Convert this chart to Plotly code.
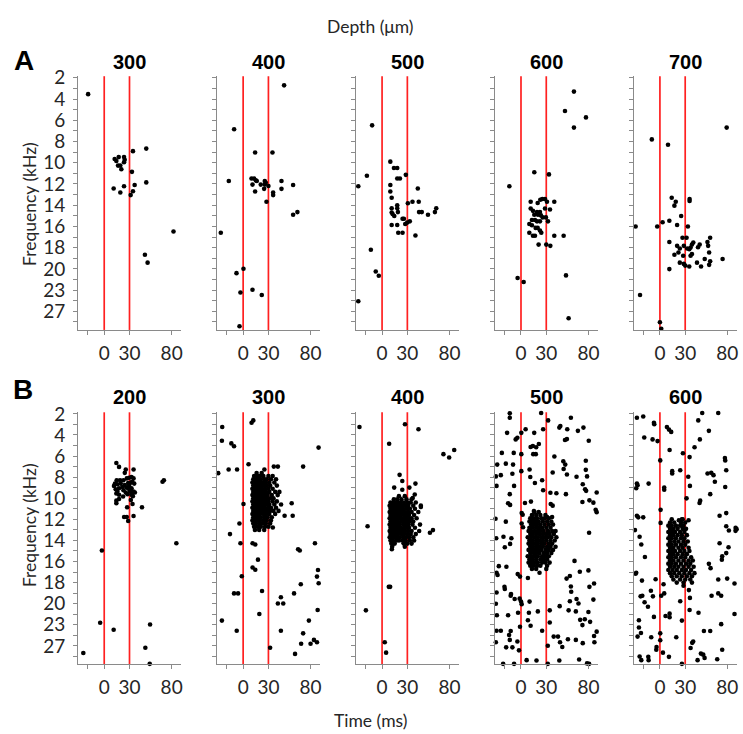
import plotly.graph_objects as go

# ---------------- axis / label data ----------------
FREQ_LABELS = ["2", "4", "6", "8", "10", "12", "14", "16", "18", "20", "23", "27"]
TIME_TICKS = [-20, 0, 30, 80]
TIME_TEXT = ["", "0", "30", "80"]
DEPTH_A = ["300", "400", "500", "600", "700"]
DEPTH_B = ["200", "300", "400", "500", "600"]
WINDOW_MS = [0, 30]

# spikes: (time ms, frequency-row index; row 0 = 2 kHz ... row 22 = 27 kHz)
A300 = [(-19.1, 1.54), (12.4, 7.65), (14.4, 7.84), (17.2, 7.47), (23.5, 7.47), (24.3, 7.72), (23.5, 7.96),
        (16.4, 8.27), (19.1, 8.27), (20.3, 8.61), (34.1, 6.91), (49.9, 6.67), (32.9, 8.86), (11.2, 10.43),
        (23.5, 10.22), (36.1, 10.09), (19.1, 10.80), (31.4, 11.05), (34.1, 10.68), (49.9, 9.85), (82.2, 14.48),
        (48.3, 16.67), (51.5, 17.41)]
A400 = [(48.6, 0.71), (-10.7, 4.85), (14.2, 7.04), (34.8, 7.04), (-17.0, 9.72), (9.9, 9.48), (13.0, 9.48),
        (15.0, 9.66), (16.2, 9.72), (11.1, 10.06), (14.2, 10.71), (20.9, 10.06), (25.7, 9.72), (25.7, 10.06),
        (26.9, 9.88), (30.0, 10.19), (24.9, 10.46), (27.7, 11.67), (35.6, 10.80), (35.6, 11.05), (45.5, 9.72),
        (45.5, 10.46), (59.3, 10.09), (59.3, 12.90), (64.4, 12.65), (-26.5, 14.60), (0.4, 17.99), (-7.9, 18.40),
        (-3.2, 20.22), (11.1, 19.97), (22.1, 20.46), (-4.3, 23.40)]
A500 = [(-11.8, 4.48), (-18.0, 9.23), (-28.2, 10.22), (9.8, 7.90), (14.1, 8.49), (18.0, 8.49), (18.0, 9.48),
        (21.2, 9.48), (28.2, 9.14), (9.8, 10.09), (9.8, 10.71), (11.4, 11.30), (42.4, 10.43), (36.1, 11.67),
        (43.5, 11.67), (30.6, 11.82), (18.0, 12.01), (18.0, 12.28), (11.4, 12.28), (11.4, 12.69), (12.5, 12.84),
        (14.5, 13.02), (18.8, 12.65), (43.9, 12.65), (47.1, 12.65), (54.5, 12.90), (62.7, 12.65), (64.3, 12.28),
        (24.3, 13.27), (25.9, 13.27), (27.5, 13.77), (29.8, 13.64), (32.9, 13.52), (11.4, 13.86), (18.0, 13.86),
        (19.2, 14.60), (24.3, 14.60), (39.6, 14.85), (-13.3, 16.20), (-7.5, 18.24), (-3.9, 18.64), (-28.2, 21.05)]
A600 = [(62.8, 1.30), (52.2, 3.12), (77.1, 3.73), (62.8, 4.69), (15.8, 8.89), (33.2, 9.10), (-13.8, 10.22),
        (11.5, 11.67), (19.8, 11.79), (22.9, 11.48), (25.3, 11.42), (28.5, 11.42), (30.8, 11.67), (39.5, 11.67),
        (11.5, 12.31), (14.2, 12.53), (19.0, 12.65), (22.5, 12.65), (28.5, 12.31), (34.4, 12.41), (15.8, 12.90),
        (20.2, 12.90), (23.7, 12.96), (25.7, 13.15), (29.6, 13.15), (13.0, 13.40), (16.6, 13.40), (19.0, 13.52),
        (22.5, 13.52), (32.0, 13.52), (9.9, 13.77), (13.0, 13.89), (17.4, 14.14), (19.8, 14.14), (22.5, 14.38),
        (9.9, 14.60), (14.2, 14.88), (16.6, 14.88), (24.1, 14.60), (39.5, 14.88), (50.6, 14.88), (20.9, 15.71),
        (30.0, 15.71), (34.8, 15.83), (-4.0, 18.86), (3.2, 19.23), (53.4, 18.61), (56.5, 22.65)]
A700 = [(79.2, 4.69), (-9.6, 5.80), (9.6, 6.30), (-28.8, 14.01), (-3.2, 14.01), (3.2, 13.61), (11.2, 13.46),
        (14.0, 11.30), (18.8, 11.67), (17.2, 12.04), (35.2, 11.42), (35.2, 11.60), (25.2, 13.02), (20.4, 13.86),
        (33.2, 14.01), (11.2, 15.46), (26.8, 15.06), (31.6, 15.06), (20.4, 15.83), (23.6, 16.08), (28.4, 15.83),
        (32.4, 16.08), (36.4, 15.99), (39.6, 15.52), (38.0, 15.71), (34.8, 16.14), (17.2, 16.67), (22.0, 16.45),
        (27.6, 16.76), (36.4, 16.76), (38.0, 16.60), (47.2, 15.71), (45.2, 15.96), (56.4, 15.46), (59.6, 15.06),
        (57.2, 15.83), (58.4, 16.45), (53.2, 17.07), (59.6, 17.28), (58.4, 17.62), (48.8, 17.78), (44.0, 17.41),
        (23.6, 17.41), (28.4, 17.53), (30.0, 17.69), (34.8, 17.78), (74.4, 17.07), (11.2, 18.02), (-23.6, 20.46),
        (0.0, 23.02), (1.6, 23.64)]

B200 = [(14.4, 4.66), (17.6, 5.03), (25.6, 5.28), (24.4, 5.59), (34.8, 5.28),
        (14.8, 6.30), (18.8, 6.30), (22.8, 6.30), (26.8, 6.12), (29.6, 6.06), (32.4, 5.99), (34.8, 6.12),
        (11.6, 6.83), (15.6, 6.68), (19.6, 6.61), (24.4, 6.74), (28.4, 6.55), (31.6, 6.52), (35.6, 6.61),
        (13.6, 7.14), (17.6, 7.05), (22.8, 7.24), (26.4, 6.99), (29.6, 7.14), (32.4, 7.05), (34.8, 7.36),
        (14.4, 7.55), (17.6, 7.67), (22.4, 7.83), (27.6, 7.61), (32.4, 7.67), (36.4, 7.45), (34.0, 7.80),
        (14.4, 8.23), (14.4, 8.48), (17.6, 8.07), (33.6, 8.54), (31.6, 8.17), (27.2, 8.85), (44.8, 8.85),
        (23.6, 9.78), (26.8, 9.78), (28.4, 10.16), (34.8, 9.69), (12.8, 6.61), (21.6, 6.93), (30.8, 7.36),
        (15.6, 7.36), (25.6, 7.45), (29.6, 6.83), (33.2, 6.43),
        (85.6, 12.27), (-2.8, 12.95), (-4.8, 19.81), (11.2, 20.47), (54.4, 19.97), (48.8, 22.17),
        (-24.8, 22.67), (54.0, 23.70), (70.8, 6.30), (69.2, 6.43)]

B300 = [(-24.8, 1.24), (-25.2, 2.55), (-14.0, 2.80), (-10.8, 3.07), (10.0, 0.84), (12.0, 0.62), (89.5, 3.20),
        (-29.6, 5.62), (-17.2, 5.28), (-7.2, 5.28), (6.4, 4.78), (25.2, 5.28), (36.4, 5.00), (41.2, 5.00),
        (71.2, 5.00), (0.4, 8.54), (57.6, 8.48), (49.2, 9.66), (58.8, 9.66), (35.2, 10.78), (-4.4, 10.40),
        (-15.6, 11.40), (-3.2, 12.27), (11.2, 12.27), (14.4, 12.39), (17.6, 13.82), (11.2, 14.57), (14.4, 14.78),
        (-1.6, 15.40), (65.2, 12.83), (67.2, 12.95), (85.2, 12.27), (88.8, 14.81), (87.6, 15.43), (89.6, 16.06),
        (68.4, 16.15), (22.4, 16.80), (-10.8, 17.02), (-6.0, 17.02), (44.8, 17.39), (41.2, 17.98), (47.6, 17.98),
        (60.4, 17.02), (88.4, 18.60), (19.2, 18.98), (-25.2, 19.60), (78.0, 19.60), (-7.6, 20.56), (44.8, 20.56),
        (71.2, 20.81), (84.0, 21.43), (87.6, 21.65), (68.8, 21.80), (80.0, 21.80), (32.0, 22.17), (61.6, 22.76)]
B300_BURST = [
    (5.6, [16, 22]),
    (5.9, [13, 17, 20, 24, 30, 35]),
    (6.2, [12, 15, 18, 21, 25, 28, 33, 39]),
    (6.5, [11, 14, 17, 20, 23, 27, 31, 37]),
    (6.8, [12, 15, 18, 21, 24, 28, 32, 40]),
    (7.1, [11, 13, 16, 19, 22, 26, 30, 35]),
    (7.4, [12, 15, 18, 21, 24, 27, 31, 38, 43]),
    (7.7, [11, 14, 17, 20, 23, 26, 29, 34, 41]),
    (8.0, [12, 15, 18, 22, 25, 28, 32, 36]),
    (8.3, [11, 14, 17, 20, 23, 27, 30, 35, 40]),
    (8.6, [12, 15, 18, 21, 24, 28, 31, 37, 45]),
    (8.9, [11, 14, 17, 20, 23, 26, 30, 33, 39]),
    (9.2, [12, 15, 19, 22, 25, 29, 32, 36, 42]),
    (9.5, [11, 14, 17, 20, 24, 27, 31, 38]),
    (9.8, [12, 15, 18, 21, 25, 29, 34]),
    (10.1, [11, 14, 17, 20, 24, 28, 33]),
    (10.4, [12, 15, 19, 23, 27, 32]),
    (10.7, [13, 17, 21, 26, 30]),
    (11.0, [14, 19, 25]),
]

B400 = [(-26.8, 1.24), (27.2, 0.99), (43.2, 1.46), (8.4, 2.83), (72.8, 3.82), (79.6, 4.13), (85.6, 3.42),
        (20.8, 5.78), (24.0, 6.37), (39.6, 6.61), (14.4, 6.99), (32.4, 6.99), (24.0, 7.20), (38.8, 7.64),
        (36.4, 7.98), (46.0, 8.82), (-17.2, 10.65), (56.8, 11.27), (60.4, 11.02), (11.6, 12.83), (25.6, 12.27),
        (8.0, 16.40), (9.6, 16.40), (-19.2, 18.63), (3.2, 21.65), (4.8, 22.64)]
B400_BURST = [
    (7.8, [20, 27]),
    (8.1, [14, 18, 23, 29, 35]),
    (8.4, [10, 13, 16, 19, 22, 26, 30, 34, 40]),
    (8.7, [9, 12, 15, 18, 21, 24, 28, 31, 37, 46]),
    (9.0, [10, 13, 16, 19, 22, 25, 29, 33, 39]),
    (9.3, [9, 12, 15, 18, 21, 24, 27, 31, 35, 43]),
    (9.6, [10, 13, 16, 19, 22, 26, 29, 32, 38]),
    (9.9, [9, 12, 15, 18, 21, 24, 28, 31, 35, 41]),
    (10.2, [10, 13, 16, 19, 23, 26, 29, 33, 37]),
    (10.5, [9, 12, 15, 18, 21, 25, 28, 31, 36, 45]),
    (10.8, [10, 13, 16, 19, 22, 26, 29, 32, 39]),
    (11.1, [9, 12, 15, 18, 21, 24, 27, 31, 35, 44]),
    (11.4, [10, 13, 16, 19, 23, 26, 30, 34, 40]),
    (11.7, [9, 12, 15, 18, 21, 25, 28, 32, 37]),
    (12.0, [10, 13, 17, 20, 24, 28, 33, 38]),
    (12.3, [11, 15, 26, 30, 35]),
    (12.6, [12, 27]),
]

B500 = [(-13.3, -0.05), (-13.3, 0.37), (23.9, -0.08), (32.2, 0.62), (59.2, 0.37), (5.5, 1.46), (26.3, 1.46),
        (46.7, 1.15), (45.5, 1.30), (54.9, 1.46), (67.5, 1.61), (74.1, 1.30), (-16.5, 1.80), (0.4, 1.80),
        (-6.3, 2.42), (-4.3, 2.27), (15.7, 1.80), (52.2, 2.48), (54.5, 2.39), (14.1, 3.04), (18.0, 3.17),
        (11.4, 3.14), (21.2, 2.86), (80.4, 2.55), (-22.7, 3.70), (-8.6, 3.70), (0.4, 3.82), (14.5, 3.82),
        (17.6, 3.82), (39.6, 4.04), (-28.2, 4.81), (-18.0, 4.72), (-9.4, 4.81), (50.2, 4.50), (52.5, 4.81),
        (76.9, 4.44), (76.9, 5.31), (10.2, 5.28), (0.4, 5.43), (50.6, 5.22), (37.6, 5.56), (54.5, 5.75),
        (-29.8, 5.93), (-23.9, 5.81), (-10.2, 5.68), (11.0, 5.99), (25.1, 6.30), (65.9, 5.96), (78.4, 5.93),
        (-29.0, 6.83), (-8.2, 6.83), (16.5, 6.55), (26.3, 7.24), (34.9, 7.48), (42.0, 7.52), (53.3, 7.61),
        (73.3, 6.68), (76.1, 7.14), (77.3, 7.30), (89.8, 7.45), (-13.3, 7.61), (-15.3, 8.48), (-12.9, 8.63),
        (4.7, 8.45), (11.8, 8.32), (35.3, 8.54), (37.6, 8.70), (72.9, 8.35), (81.2, 8.20), (85.9, 8.42),
        (88.6, 9.10), (89.8, 9.32), (0.8, 9.41), (2.0, 9.57), (15.3, 9.22), (-30.2, 9.94), (31.0, 9.78),
        (36.9, 9.78), (-18.0, 10.22), (0.8, 10.40), (2.4, 10.75), (80.8, 11.27), (-29.4, 11.80), (-20.8, 11.65),
        (-19.2, 12.64), (-11.4, 11.80), (-12.9, 12.33), (-17.3, 14.50), (-26.3, 14.44), (-29.0, 15.06),
        (-27.8, 15.28), (-3.9, 15.19), (-1.2, 15.43), (8.2, 15.56), (22.0, 15.06), (54.1, 15.62), (58.0, 15.37),
        (63.5, 13.94), (69.8, 14.97), (80.0, 14.84), (86.7, 16.09), (81.2, 16.40), (59.2, 16.37), (59.6, 16.86),
        (-29.0, 16.93), (-19.6, 16.40), (-19.2, 16.61), (-11.8, 17.08), (-12.2, 17.24), (-7.5, 17.55),
        (-1.6, 17.52), (0.0, 17.80), (0.8, 18.04), (10.2, 17.80), (-29.8, 18.01), (45.9, 18.23), (58.0, 17.76),
        (65.9, 17.55), (68.2, 17.98), (85.9, 17.61), (9.4, 18.85), (20.0, 18.73), (-3.5, 18.85), (-15.3, 19.10),
        (-28.6, 19.10), (34.1, 18.63), (56.5, 18.63), (65.1, 18.73), (-29.0, 20.56), (-23.9, 20.56),
        (-12.2, 20.59), (-1.2, 20.19), (8.2, 19.57), (11.4, 20.09), (25.1, 20.56), (34.1, 19.78), (70.2, 19.53),
        (75.7, 19.47), (80.0, 18.79), (82.0, 19.72), (72.9, 20.03), (86.7, 21.06), (89.8, 20.65), (-29.8, 21.65),
        (-14.1, 20.96), (-13.3, 21.43), (-17.6, 22.14), (-10.2, 22.14), (-4.3, 21.58), (-2.4, 22.42),
        (38.8, 21.12), (43.9, 21.12), (46.3, 21.65), (31.8, 21.99), (49.0, 22.11), (55.7, 21.37), (65.1, 21.43),
        (73.3, 21.74), (87.1, 21.65), (6.7, 23.35), (18.4, 23.39), (45.5, 23.39), (69.0, 23.29), (-21.2, 23.70),
        (-8.2, 23.70), (31.8, 23.70), (78.4, 23.66), (80.8, 23.70)]
B500_BURST = [
    (9.3, [16, 21]),
    (9.6, [13, 18, 23, 29]),
    (9.9, [11, 15, 19, 24, 28, 33]),
    (10.2, [10, 14, 17, 21, 26, 31, 36]),
    (10.5, [12, 16, 19, 23, 28, 33, 38]),
    (10.8, [10, 14, 18, 21, 25, 30, 35]),
    (11.1, [9, 12, 16, 20, 23, 27, 32, 37, 41]),
    (11.4, [11, 14, 18, 22, 26, 30, 34, 39]),
    (11.7, [8, 12, 16, 20, 24, 28, 32, 36, 42]),
    (12.0, [10, 14, 18, 22, 26, 30, 35, 40]),
    (12.3, [9, 12, 16, 20, 24, 28, 33, 37]),
    (12.6, [11, 14, 18, 22, 26, 31, 35, 41]),
    (12.9, [9, 13, 16, 20, 24, 29, 33, 38]),
    (13.2, [11, 15, 18, 22, 27, 31, 36]),
    (13.5, [8, 12, 16, 20, 25, 29, 33]),
    (13.8, [10, 14, 18, 23, 27, 31]),
    (14.1, [9, 12, 16, 20, 25, 29, 34]),
    (14.4, [11, 15, 19, 23, 31]),
    (14.7, [13, 18, 30]),
]

B600 = [(-27.3, 0.37), (-19.8, 0.25), (-7.1, 0.84), (-6.7, 0.99), (8.3, 1.24), (10.7, 1.49), (13.4, 1.71),
        (50.2, -0.08), (69.2, -0.08), (45.5, 0.62), (58.1, 1.61), (-18.6, 2.24), (-8.7, 2.42), (-2.8, 2.58),
        (47.4, 2.42), (11.5, 3.42), (41.1, 3.17), (0.4, 4.41), (27.3, 3.73), (35.2, 4.10), (77.1, 4.19),
        (77.5, 4.41), (14.6, 5.43), (14.6, 5.65), (24.1, 5.34), (33.6, 5.96), (56.5, 5.65), (60.9, 5.59),
        (63.6, 5.81), (78.7, 5.34), (-27.3, 6.61), (-26.5, 6.77), (-28.1, 7.05), (-13.4, 6.61), (5.1, 6.99),
        (5.1, 7.20), (35.6, 6.83), (65.2, 6.43), (77.5, 6.93), (59.7, 7.61), (47.8, 8.23), (47.0, 8.45),
        (31.6, 8.01), (0.8, 9.10), (-27.3, 9.66), (-25.7, 9.81), (-19.8, 9.81), (0.8, 10.34), (22.5, 10.09),
        (26.1, 10.00), (34.0, 10.09), (70.8, 9.66), (78.7, 9.41), (-29.6, 11.02), (-24.1, 11.65),
        (-22.1, 12.39), (-17.8, 13.57), (-28.9, 15.16), (-28.1, 15.06), (-21.3, 15.81), (-5.1, 15.68),
        (4.3, 16.15), (69.2, 15.71), (79.8, 15.62), (89.8, 10.81), (91.0, 10.93), (89.7, 11.09), (78.7, 10.65),
        (81.8, 11.06), (70.8, 12.27), (81.4, 12.64), (78.7, 13.20), (73.9, 13.51), (73.5, 13.82), (58.1, 14.22),
        (60.1, 14.63), (88.5, 16.09), (-20.9, 17.24), (-22.9, 17.30), (-10.7, 16.77), (-8.3, 17.30),
        (-18.2, 17.86), (-14.2, 18.29), (1.6, 17.24), (5.1, 17.02), (24.1, 17.76), (34.4, 16.71), (35.6, 17.45),
        (61.3, 17.24), (69.2, 17.02), (72.7, 17.24), (-7.1, 19.25), (6.7, 19.16), (11.5, 18.94), (11.5, 19.29),
        (26.1, 19.60), (35.2, 18.60), (45.8, 18.85), (72.7, 19.94), (88.5, 18.98), (-24.9, 19.57),
        (-24.9, 20.25), (-22.5, 20.78), (-26.5, 21.12), (-10.3, 21.18), (0.4, 20.81), (0.4, 21.46),
        (-4.0, 22.11), (-4.3, 22.36), (3.6, 22.64), (10.7, 23.04), (19.4, 21.18), (38.3, 21.71), (39.5, 21.58),
        (36.4, 22.20), (52.2, 20.59), (48.6, 22.73), (51.4, 22.83), (53.0, 23.14), (44.7, 23.35), (68.0, 23.26),
        (73.9, 22.36), (-24.1, 23.01), (-22.1, 23.35), (-13.8, 23.04), (-13.4, 23.35), (26.1, 23.70),
        (59.7, 20.59)]
B600_BURST = [
    (10.0, [14, 27]),
    (10.3, [12, 17, 25, 30]),
    (10.6, [10, 14, 19, 24, 28]),
    (10.9, [12, 16, 21, 27, 31]),
    (11.2, [10, 14, 18, 24, 29]),
    (11.5, [12, 16, 21, 26, 32]),
    (11.8, [10, 14, 19, 25, 29]),
    (12.1, [12, 17, 22, 28, 33]),
    (12.4, [10, 14, 19, 25, 30]),
    (12.7, [12, 16, 22, 27, 34]),
    (13.0, [10, 14, 18, 24, 29, 35]),
    (13.3, [12, 16, 21, 27, 32]),
    (13.6, [10, 14, 19, 25, 30, 37]),
    (13.9, [12, 16, 22, 28, 34, 39]),
    (14.2, [10, 14, 19, 25, 31, 36]),
    (14.5, [12, 17, 22, 28, 34, 40]),
    (14.8, [10, 15, 20, 26, 31, 37]),
    (15.1, [12, 17, 23, 29, 35, 41]),
    (15.4, [14, 20, 26, 32, 38]),
    (15.7, [16, 24, 30, 36]),
    (16.0, [20, 28, 38]),
    (16.3, [28]),
]

PANELS = [
    (A300, []), (A400, []), (A500, []), (A600, []), (A700, []),
    (B200, []), (B300, B300_BURST), (B400, B400_BURST), (B500, B500_BURST), (B600, B600_BURST),
]

# ---------------- layout geometry (pixels) ----------------
W, H = 743, 734
X_RANGE = [-31, 91]
Y_RANGE = [23.75, -0.15]
COL_PX = [(78.3, 181.4), (217.6, 320.7), (356.9, 460.0), (496.2, 599.3), (635.5, 738.6)]
ROW_PX = [(66.2, 323.8), (407.4, 663.3)]

AX_COLOR = "#8a8a8a"
TICK_FONT = dict(family="Lato, Liberation Sans, sans-serif", size=19, color="#262626")

fig = go.Figure()
layout = dict(
    width=W, height=H, margin=dict(l=0, r=0, t=0, b=0),
    paper_bgcolor="white", plot_bgcolor="white", showlegend=False,
)
shapes = []
annotations = []

for i, (spikes, burst) in enumerate(PANELS):
    r, c = divmod(i, 5)
    n = i + 1
    xs = [p[0] for p in spikes]
    ys = [p[1] for p in spikes]
    for fy, times in burst:
        for t in times:
            xs.append(t)
            ys.append(fy)
    xa = "x" if n == 1 else f"x{n}"
    ya = "y" if n == 1 else f"y{n}"
    fig.add_trace(go.Scatter(
        x=xs, y=ys, xaxis=xa, yaxis=ya, mode="markers", cliponaxis=False,
        marker=dict(color="black", size=4.6, line=dict(width=0)), hoverinfo="skip",
    ))
    x0, x1 = COL_PX[c]
    y0, y1 = ROW_PX[r]
    xkey = "xaxis" if n == 1 else f"xaxis{n}"
    ykey = "yaxis" if n == 1 else f"yaxis{n}"
    layout[xkey] = dict(
        domain=[x0 / W, x1 / W], range=X_RANGE, anchor=ya,
        showline=True, linecolor=AX_COLOR, linewidth=1, mirror=False,
        ticks="outside", ticklen=4, tickwidth=1, tickcolor=AX_COLOR,
        tickvals=TIME_TICKS, ticktext=TIME_TEXT, tickfont=TICK_FONT,
        showgrid=False, zeroline=False, fixedrange=True, ticklabelstandoff=2,
    )
    ytext = [FREQ_LABELS[k // 2] if (k % 2 == 0 and c == 0) else "" for k in range(24)]
    layout[ykey] = dict(
        domain=[1 - y1 / H, 1 - y0 / H], range=Y_RANGE, anchor=xa,
        showline=True, linecolor=AX_COLOR, linewidth=1,
        ticks="outside", ticklen=4, tickwidth=1, tickcolor=AX_COLOR,
        tickvals=list(range(24)), ticktext=ytext, tickfont=TICK_FONT,
        showgrid=False, zeroline=False, fixedrange=True, ticklabelstandoff=4,
    )
    for wv in WINDOW_MS:
        shapes.append(dict(
            type="line", xref=xa, yref=f"{ya} domain", x0=wv, x1=wv, y0=0, y1=1,
            line=dict(color="#ff2020", width=1.7), layer="below",
        ))
    title = (DEPTH_A if r == 0 else DEPTH_B)[c]
    annotations.append(dict(
        text=f"<b>{title}</b>", x=(x0 + x1) / 2 / W, y=1 - (52 if r == 0 else 392) / H,
        xref="paper", yref="paper", showarrow=False, xanchor="center", yanchor="middle",
        font=dict(family="Liberation Sans, Arial, sans-serif", size=20, color="black"),
    ))

LABEL_FONT = dict(family="Lato, Liberation Sans, sans-serif", size=17.5, color="#262626")
annotations += [
    dict(text="Depth (μm)", x=371 / W, y=1 - 16 / H, font=LABEL_FONT),
    dict(text="Time (ms)", x=371 / W, y=1 - 720 / H, font=LABEL_FONT),
    dict(text="Frequency (kHz)", x=29 / W, y=1 - 196 / H, textangle=-90, font=LABEL_FONT),
    dict(text="Frequency (kHz)", x=29 / W, y=1 - 522 / H, textangle=-90, font=LABEL_FONT),
    dict(text="<b>A</b>", x=24 / W, y=1 - 50 / H,
         font=dict(family="Liberation Sans, Arial, sans-serif", size=28, color="black")),
    dict(text="<b>B</b>", x=23 / W, y=1 - 384 / H,
         font=dict(family="Liberation Sans, Arial, sans-serif", size=28, color="black")),
]
for a in annotations[-6:]:
    a.update(xref="paper", yref="paper", showarrow=False, xanchor="center", yanchor="middle")

layout["shapes"] = shapes
layout["annotations"] = annotations
fig.update_layout(**layout)
fig.write_html("out.html")
